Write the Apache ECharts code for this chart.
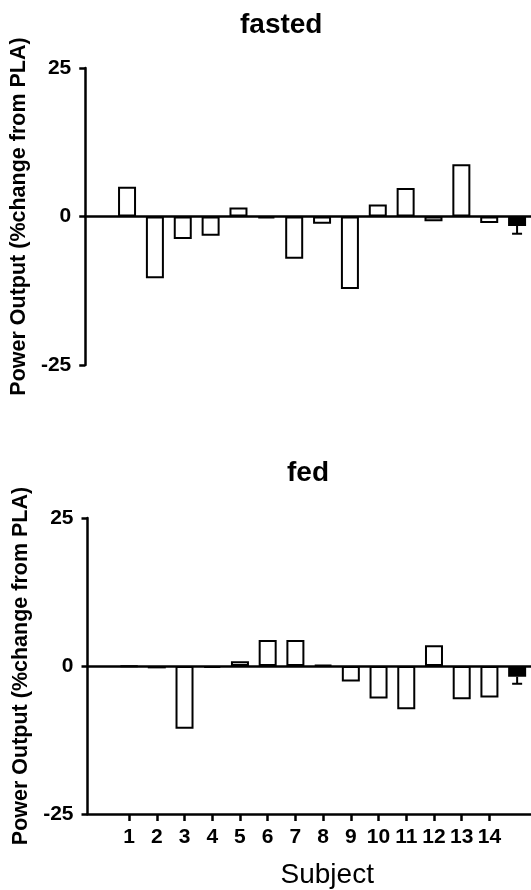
<!DOCTYPE html>
<html>
<head>
<meta charset="utf-8">
<script src="https://cdn.jsdelivr.net/npm/echarts@6/dist/echarts.min.js"></script>
<style>
html,body{margin:0;padding:0;background:#fff;}
#chart{width:531px;height:890px;}
</style>
</head>
<body>
<div id="chart"></div>
<script>
// ---- data ----
const subjects = ['1','2','3','4','5','6','7','8','9','10','11','12','13','14'];
const fastedValues = [5.0, -10.4, -3.8, -3.25, 1.5, -0.3, -7.1, -1.2, -12.2, 2.0, 4.8, -0.8, 8.8, -1.1];
const fastedMean = -1.6;
const fastedSem = 1.3;
const fedValues = [-0.1, -0.4, -10.6, -0.3, 0.8, 4.4, 4.4, 0.2, -2.6, -5.5, -7.3, 3.5, -5.6, -5.3];
const fedMean = -1.8;
const fedSem = 1.2;
const yTicks = [-25, 0, 25];
const panelTitles = ['fasted', 'fed'];
const yAxisTitle = 'Power Output (%change from PLA)';
const xAxisTitle = 'Subject';

// ---- build ----
const FONT = "'Liberation Sans', Arial, Helvetica, sans-serif";
const categories = [''].concat(subjects, ['']);
const meanIndex = categories.length - 1;

function barData(vals, mean) {
  return ['-'].concat(vals, [{ value: mean, itemStyle: { color: '#000' } }]);
}

function errRender(params, api) {
  const x = api.value(0), a = api.value(1), b = api.value(2);
  const p1 = api.coord([x, a]);
  const p2 = api.coord([x, b]);
  const hw = 5;
  return {
    type: 'group',
    children: [
      { type: 'line', shape: { x1: p1[0], y1: p1[1], x2: p2[0], y2: p2[1] }, style: { stroke: '#000', lineWidth: 2 } },
      { type: 'line', shape: { x1: p2[0] - hw, y1: p2[1], x2: p2[0] + hw, y2: p2[1] }, style: { stroke: '#000', lineWidth: 2 } }
    ]
  };
}

function yAxisCfg(gridIndex, gap) {
  return {
    type: 'value', gridIndex: gridIndex,
    min: yTicks[0], max: yTicks[yTicks.length - 1], interval: 25,
    axisLine: { show: true, onZero: false, lineStyle: { color: '#000', width: 2.5 } },
    axisTick: { show: true, length: 6, lineStyle: { color: '#000', width: 2.5 } },
    axisLabel: { color: '#000', fontFamily: FONT, fontWeight: 'bold', fontSize: 21, margin: 14 },
    splitLine: { show: false },
    name: yAxisTitle, nameLocation: 'middle', nameRotate: 90, nameGap: gap,
    nameTextStyle: { color: '#000', fontFamily: FONT, fontWeight: 'bold', fontSize: 21.5 }
  };
}

const barStyle = { color: '#fff', borderColor: '#000', borderWidth: 2 };

const option = {
  animation: false,
  backgroundColor: '#fff',
  title: [
    { text: panelTitles[0], left: 235, top: 6, textStyle: { fontFamily: FONT, fontWeight: 'bold', fontSize: 28, color: '#000' } },
    { text: panelTitles[1], left: 282, top: 454, textStyle: { fontFamily: FONT, fontWeight: 'bold', fontSize: 28, color: '#000' } }
  ],
  grid: [
    { left: 82.5, top: 68, width: 451.5, height: 297 },
    { left: 87.5, top: 518, width: 451.5, height: 297 }
  ],
  xAxis: [
    {
      type: 'category', gridIndex: 0, data: categories,
      axisLine: { show: true, onZero: true, lineStyle: { color: '#000', width: 2.5 } },
      axisTick: { show: false }, axisLabel: { show: false }, splitLine: { show: false }
    },
    {
      type: 'category', gridIndex: 1, data: categories, position: 'bottom',
      axisLine: { show: true, onZero: false, lineStyle: { color: '#000', width: 2.5 } },
      axisTick: {
        show: true, alignWithLabel: true, length: 7,
        interval: function (idx, val) { return val !== ''; },
        lineStyle: { color: '#000', width: 2.5 }
      },
      axisLabel: { color: '#000', fontFamily: FONT, fontWeight: 'bold', fontSize: 21, margin: 13, interval: 0 },
      splitLine: { show: false },
      name: xAxisTitle, nameLocation: 'middle', nameGap: 47,
      nameTextStyle: { color: '#000', fontFamily: FONT, fontSize: 28, padding: [0, 0, 0, 36] }
    }
  ],
  yAxis: [yAxisCfg(0, 50), yAxisCfg(1, 54)],
  series: [
    {
      type: 'bar', xAxisIndex: 0, yAxisIndex: 0, barWidth: 18,
      itemStyle: barStyle, data: barData(fastedValues, fastedMean)
    },
    {
      type: 'bar', xAxisIndex: 1, yAxisIndex: 1, barWidth: 18,
      itemStyle: barStyle, data: barData(fedValues, fedMean),
      markLine: {
        silent: true, symbol: 'none', label: { show: false },
        lineStyle: { color: '#000', width: 2.5, type: 'solid' },
        data: [{ yAxis: 0 }]
      }
    },
    {
      type: 'custom', xAxisIndex: 0, yAxisIndex: 0, renderItem: errRender,
      encode: { x: 0, y: [1, 2] },
      data: [[meanIndex, fastedMean, fastedMean - fastedSem]]
    },
    {
      type: 'custom', xAxisIndex: 1, yAxisIndex: 1, renderItem: errRender,
      encode: { x: 0, y: [1, 2] },
      data: [[meanIndex, fedMean, fedMean - fedSem]]
    }
  ]
};

const chart = echarts.init(document.getElementById('chart'), null, { renderer: 'canvas' });
chart.setOption(option);
</script>
</body>
</html>
